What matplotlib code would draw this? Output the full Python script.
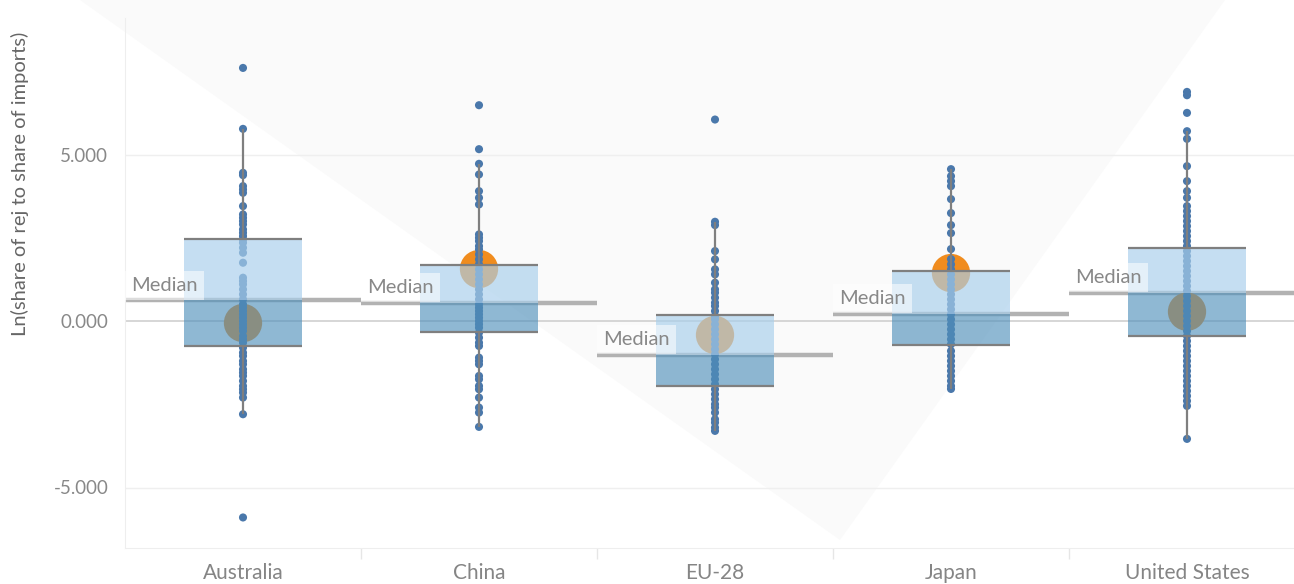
import matplotlib
matplotlib.use("Agg")
import matplotlib.pyplot as plt
from matplotlib.patches import Polygon
from matplotlib.ticker import FuncFormatter

plt.rcParams['font.family'] = ['Lato', 'DejaVu Sans']

countries = ['Australia', 'China', 'EU-28', 'Japan', 'United States']

# individual observations per country
pts_aus = [7.6, 5.77, 4.45, 4.38, 4.05, 3.95, 3.85, 3.45, 3.2, 3.1, 3.0, 2.9, 2.75,
           2.65, 2.55, 2.45, 2.35, 2.2, 2.05, 1.75, 1.3, 1.2, 1.1, 0.95, 0.8, 0.65,
           0.5, 0.4, 0.3, 0.2, 0.1, 0.0, -0.1, -0.2, -0.3, -0.45, -0.55, -0.65, -0.8,
           -0.95, -1.05, -1.2, -1.3, -1.45, -1.55, -1.65, -1.8, -1.95, -2.05, -2.15,
           -2.3, -2.8, -5.9]
pts_chn = [6.48, 5.16, 4.72, 4.4, 3.9, 3.7, 3.5, 2.6, 2.5, 2.4, 2.25, 2.15, 2.0,
           1.85, 1.7, 1.55, 1.4, 1.25, 1.1, 0.95, 0.8, 0.65, 0.5, 0.4, 0.3, 0.2, 0.1,
           0.0, -0.1, -0.2, -0.35, -0.5, -0.65, -0.75, -1.1, -1.2, -1.3, -1.65, -1.75,
           -1.95, -2.05, -2.3, -2.6, -2.75, -3.18]
pts_eu = [6.05, 2.98, 2.88, 2.1, 1.85, 1.55, 1.4, 1.15, 0.95, 0.85, 0.7, 0.55, 0.45,
          0.3, 0.15, 0.05, -0.1, -0.25, -0.4, -0.55, -0.7, -0.85, -1.0, -1.15, -1.3,
          -1.45, -1.6, -1.75, -1.9, -2.05, -2.2, -2.35, -2.5, -2.6, -2.75, -2.95,
          -3.05, -3.2, -3.3]
pts_jpn = [4.56, 4.35, 4.2, 4.05, 3.66, 3.24, 2.88, 2.64, 2.16, 1.86, 1.7, 1.55, 1.4,
           1.25, 1.1, 0.95, 0.8, 0.65, 0.5, 0.35, 0.2, 0.05, -0.1, -0.25, -0.4, -0.55,
           -0.7, -0.9, -1.05, -1.2, -1.35, -1.5, -1.65, -1.8, -1.95, -2.04]
pts_usa = [6.88, 6.78, 6.25, 5.7, 5.47, 4.65, 4.2, 3.9, 3.7, 3.45, 3.3, 3.15, 3.0,
           2.85, 2.7, 2.55, 2.4, 2.25, 2.1, 1.95, 1.8, 1.65, 1.5, 1.35, 1.2, 1.05,
           0.9, 0.75, 0.6, 0.45, 0.3, 0.15, 0.0, -0.15, -0.3, -0.45, -0.6, -0.75,
           -0.9, -1.05, -1.2, -1.35, -1.5, -1.65, -1.8, -1.95, -2.1, -2.25, -2.4,
           -2.55, -3.54]
points = [pts_aus, pts_chn, pts_eu, pts_jpn, pts_usa]

# box summaries
q1 = [-0.74, -0.33, -1.95, -0.72, -0.45]
median = [0.62, 0.54, -1.02, 0.21, 0.84]
q3 = [2.47, 1.68, 0.18, 1.50, 2.19]
whis_lo = [-2.8, -3.18, -3.3, -2.04, -3.54]
whis_hi = [5.77, 4.72, 2.98, 4.56, 5.7]
mean = [-0.06, 1.56, -0.42, 1.44, 0.28]

W, H = 1294, 584
fig = plt.figure(figsize=(W / 100, H / 100), dpi=100)
fig.patch.set_facecolor('white')

# large pale "V" in the background, kept behind the axes
fig.patches.append(Polygon([(80 / W, 1.0), (1225 / W, 1.0), (840 / W, 1 - 540 / H)],
                           closed=True, transform=fig.transFigure,
                           facecolor='#fafafa', edgecolor='none', zorder=-5))

ax = fig.add_axes([125 / W, 36 / H, 1 - 125 / W, 530 / H])
ax.patch.set_alpha(0)

x = list(range(len(countries)))
half = 0.25
grey = '#7f7f7f'

for i in x:
    # median line across the whole category slot
    ax.hlines(median[i], i - 0.5, i + 0.5, color='#b2b2b2', lw=3.2, zorder=1)
    ax.scatter(i, mean[i], s=760, color='#f08c1e', edgecolors='none', zorder=2)
    ax.scatter([i] * len(points[i]), points[i], s=34, color='#4a78ab',
               edgecolors='none', zorder=3)
    ax.vlines(i, q3[i], whis_hi[i], color=grey, lw=1.6, zorder=4)
    ax.vlines(i, whis_lo[i], q1[i], color=grey, lw=1.6, zorder=4)
    ax.text(i - 0.475, median[i] + 0.2, 'Median', fontsize=14.5, color='#888888',
            ha='left', va='bottom', zorder=8,
            bbox=dict(boxstyle='square,pad=0.3', fc='white', ec='none', alpha=0.55))

ax.bar(x, [m - a for m, a in zip(median, q1)], bottom=q1, width=2 * half,
       color='#5090bb', alpha=0.64, zorder=5)
ax.bar(x, [b - m for b, m in zip(q3, median)], bottom=median, width=2 * half,
       color='#a9cfec', alpha=0.67, zorder=5)
for i in x:
    ax.hlines([q1[i], q3[i]], i - half, i + half, color=grey, lw=1.6, zorder=6)

ax.set_xlim(-0.5, (W - 243) / 236)
ax.set_ylim((321 - 548) / 33.3, (321 - 18) / 33.3)

ax.axhline(0, color='#cfcfcf', lw=1.2, zorder=0.5)
for v in (-5, 5):
    ax.axhline(v, color='#efefef', lw=1, zorder=0.5)

for side in ('top', 'right'):
    ax.spines[side].set_visible(False)
ax.spines['left'].set_color('#eeeeee')
ax.spines['bottom'].set_color('#eeeeee')

ax.set_yticks([-5, 0, 5])
ax.yaxis.set_major_formatter(FuncFormatter(lambda v, p: f'{v:.3f}'))
ax.tick_params(axis='y', length=0, pad=12, labelsize=13.5, labelcolor='#888888')
ax.set_xticks(x)
ax.set_xticklabels(countries)
ax.tick_params(axis='x', length=0, pad=11, labelsize=15, labelcolor='#858585')
ax.set_xticks([i + 0.5 for i in x[:-1]], minor=True)
ax.tick_params(axis='x', which='minor', length=8, color='#e6e6e6', width=1)

ax.set_ylabel('Ln(share of rej to share of imports)', fontsize=14.5, color='#666666',
              va='center')
ax.yaxis.set_label_coords((20 - 125) / 1169, (548 - 184) / 530)

fig.savefig('out.png', dpi=100)
